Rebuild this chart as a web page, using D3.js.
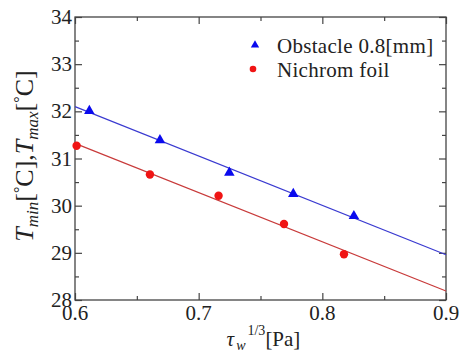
<!DOCTYPE html>
<html>
<head>
<meta charset="utf-8">
<script src="https://cdn.jsdelivr.net/npm/d3@7/dist/d3.min.js"></script>
</head>
<body style="margin:0;background:#fff">
<svg id="chart" width="464" height="358"></svg>
<script>
// ---- data ----
const obstacleX = [0.6116, 0.6687, 0.7248, 0.7765, 0.8255];
const obstacleY = [32.01, 31.39, 30.70, 30.25, 29.78];
const nichromX = [0.6013, 0.6606, 0.7161, 0.7690, 0.8175];
const nichromY = [31.27, 30.66, 30.21, 29.61, 28.97];
const obstacleFitX = [0.6, 0.9];
const obstacleFitY = [32.10, 28.96];
const nichromFitX = [0.6, 0.9];
const nichromFitY = [31.32, 28.19];
const xTicks = [0.6, 0.7, 0.8, 0.9];
const xMinorTicks = [0.65, 0.75, 0.85];
const yTicks = [28, 29, 30, 31, 32, 33, 34];
const yMinorTicks = [28.5, 29.5, 30.5, 31.5, 32.5, 33.5];
const legendLabels = ["Obstacle 0.8[mm]", "Nichrom foil"];

// ---- layout ----
const FONT = '"Liberation Serif"';
const svg = d3.select("#chart");
const L = 75, R = 446, T = 17, B = 300;
const x = d3.scaleLinear().domain([0.6, 0.9]).range([L, R]);
const y = d3.scaleLinear().domain([28, 34]).range([B, T]);
const axisColor = "#444";
const majorLen = 7, minorLen = 4;

// frame
svg.append("rect").attr("x", L).attr("y", T).attr("width", R - L).attr("height", B - T)
  .attr("fill", "none").attr("stroke", axisColor).attr("stroke-width", 1.3);

function tickAxis(axisGen, transform, len) {
  const g = svg.append("g").attr("transform", transform)
    .call(axisGen.tickSize(len).tickSizeOuter(0).tickFormat(""));
  g.select(".domain").remove();
  g.selectAll(".tick text").remove();
  g.selectAll(".tick line").attr("stroke", axisColor).attr("stroke-width", 1.2);
  return g;
}
// bottom / top / left / right (inward ticks)
tickAxis(d3.axisTop(x).tickValues(xTicks), `translate(0,${B})`, majorLen);
tickAxis(d3.axisTop(x).tickValues(xMinorTicks), `translate(0,${B})`, minorLen);
tickAxis(d3.axisBottom(x).tickValues(xTicks), `translate(0,${T})`, majorLen);
tickAxis(d3.axisBottom(x).tickValues(xMinorTicks), `translate(0,${T})`, minorLen);
tickAxis(d3.axisRight(y).tickValues(yTicks), `translate(${L},0)`, majorLen);
tickAxis(d3.axisRight(y).tickValues(yMinorTicks), `translate(${L},0)`, minorLen);
tickAxis(d3.axisLeft(y).tickValues(yTicks), `translate(${R},0)`, majorLen);
tickAxis(d3.axisLeft(y).tickValues(yMinorTicks), `translate(${R},0)`, minorLen);

// tick labels
svg.append("g").selectAll("text").data(xTicks).join("text")
  .attr("x", d => x(d)).attr("y", 320).attr("text-anchor", "middle").attr("fill", "#222")
  .style("font-family", FONT).style("font-size", "21px").text(d3.format(".1f"));
svg.append("g").selectAll("text").data(yTicks).join("text")
  .attr("x", L - 3).attr("y", d => y(d)).attr("dy", "0.34em").attr("text-anchor", "end").attr("fill", "#222")
  .style("font-family", FONT).style("font-size", "21px").text(d3.format("d"));

// fit lines
const line = d3.line().x(d => x(d[0])).y(d => y(d[1]));
svg.append("path").datum(d3.zip(obstacleFitX, obstacleFitY)).attr("d", line)
  .attr("fill", "none").attr("stroke", "#3a3ad0").attr("stroke-width", 1.2);
svg.append("path").datum(d3.zip(nichromFitX, nichromFitY)).attr("d", line)
  .attr("fill", "none").attr("stroke", "#c83a3a").attr("stroke-width", 1.2);

// markers
const tri = d3.symbol().type(d3.symbolTriangle).size(48);
svg.append("g").selectAll("path").data(d3.zip(obstacleX, obstacleY)).join("path")
  .attr("d", tri).attr("transform", d => `translate(${x(d[0])},${y(d[1])})`)
  .attr("fill", "#0a0aee");
svg.append("g").selectAll("circle").data(d3.zip(nichromX, nichromY)).join("circle")
  .attr("cx", d => x(d[0])).attr("cy", d => y(d[1])).attr("r", 4.2)
  .attr("fill", "#f01414");

// legend
const lg = svg.append("g");
lg.append("path").attr("d", d3.symbol().type(d3.symbolTriangle).size(30))
  .attr("transform", "translate(255,45)").attr("fill", "#0a0aee");
lg.append("circle").attr("cx", 253).attr("cy", 69).attr("r", 3.3).attr("fill", "#f01414");
lg.selectAll("text").data(legendLabels).join("text")
  .attr("x", 277).attr("y", (d, i) => 53 + i * 24).attr("fill", "#222")
  .style("font-family", FONT).style("font-size", "21px").style("letter-spacing", "0.3px").text(d => d);

// x label
const xl = svg.append("text").attr("x", (L + R) / 2 + 3).attr("y", 346).attr("fill", "#222")
  .attr("text-anchor", "middle").style("font-family", FONT).style("font-size", "21px");
xl.append("tspan").style("font-style", "italic").text("τ");
xl.append("tspan").style("font-style", "italic").style("font-size", "14px").attr("dx", 2).attr("dy", 4).text("w");
xl.append("tspan").style("font-size", "14px").attr("dx", 2).attr("dy", -15).text("1/3");
xl.append("tspan").attr("dy", 11).text("[Pa]");

// y label
const ylab = svg.append("text").attr("transform", "translate(33,156) rotate(-90)").attr("fill", "#222")
  .attr("text-anchor", "middle").style("font-family", FONT).style("font-size", "26px");
function addT(sub) {
  ylab.append("tspan").style("font-style", "italic").text("T");
  ylab.append("tspan").style("font-style", "italic").style("font-size", "17px").attr("dy", 5).text(sub);
  ylab.append("tspan").attr("dy", -5).text("[");
  ylab.append("tspan").style("font-size", "16px").attr("dy", -8).text("°");
  ylab.append("tspan").attr("dy", 8).text("C]");
}
addT("min");
ylab.append("tspan").text(",");
addT("max");
</script>
</body>
</html>
